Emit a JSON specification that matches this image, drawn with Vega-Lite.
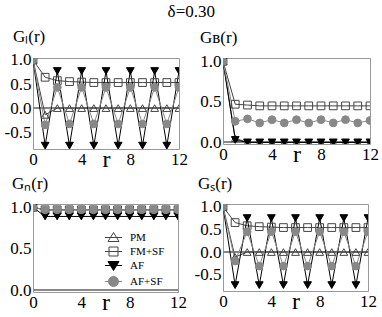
{
  "$schema": "https://vega.github.io/schema/vega-lite/v6.json",
  "padding": {"left": 3, "top": 3, "right": 5, "bottom": 3},
  "title": {"text": "δ=0.30", "fontSize": 17, "font": "Liberation Serif", "fontWeight": "normal", "anchor": "middle", "frame": "bounds", "offset": 6},
  "datasets": {
    "gl": [
      {"s":"PM","r":0,"v":1},{"s":"PM","r":1,"v":-0.14},{"s":"PM","r":2,"v":0},{"s":"PM","r":3,"v":0},{"s":"PM","r":4,"v":0},{"s":"PM","r":5,"v":0},{"s":"PM","r":6,"v":0},{"s":"PM","r":7,"v":0},{"s":"PM","r":8,"v":0},{"s":"PM","r":9,"v":0},{"s":"PM","r":10,"v":0},{"s":"PM","r":11,"v":0},{"s":"PM","r":12,"v":0},
      {"s":"FM+SF","r":0,"v":1},{"s":"FM+SF","r":1,"v":0.64},{"s":"FM+SF","r":2,"v":0.57},{"s":"FM+SF","r":3,"v":0.55},{"s":"FM+SF","r":4,"v":0.54},{"s":"FM+SF","r":5,"v":0.53},{"s":"FM+SF","r":6,"v":0.53},{"s":"FM+SF","r":7,"v":0.53},{"s":"FM+SF","r":8,"v":0.53},{"s":"FM+SF","r":9,"v":0.53},{"s":"FM+SF","r":10,"v":0.53},{"s":"FM+SF","r":11,"v":0.53},{"s":"FM+SF","r":12,"v":0.53},
      {"s":"AF","r":0,"v":1},{"s":"AF","r":1,"v":-0.78},{"s":"AF","r":2,"v":0.77},{"s":"AF","r":3,"v":-0.78},{"s":"AF","r":4,"v":0.77},{"s":"AF","r":5,"v":-0.78},{"s":"AF","r":6,"v":0.77},{"s":"AF","r":7,"v":-0.78},{"s":"AF","r":8,"v":0.77},{"s":"AF","r":9,"v":-0.78},{"s":"AF","r":10,"v":0.77},{"s":"AF","r":11,"v":-0.78},{"s":"AF","r":12,"v":0.77},
      {"s":"AF+SF","r":0,"v":1},{"s":"AF+SF","r":1,"v":-0.35},{"s":"AF+SF","r":2,"v":0.43},{"s":"AF+SF","r":3,"v":-0.33},{"s":"AF+SF","r":4,"v":0.43},{"s":"AF+SF","r":5,"v":-0.33},{"s":"AF+SF","r":6,"v":0.43},{"s":"AF+SF","r":7,"v":-0.33},{"s":"AF+SF","r":8,"v":0.43},{"s":"AF+SF","r":9,"v":-0.33},{"s":"AF+SF","r":10,"v":0.43},{"s":"AF+SF","r":11,"v":-0.33},{"s":"AF+SF","r":12,"v":0.43}
    ],
    "gb": [
      {"s":"PM","r":0,"v":1},{"s":"PM","r":1,"v":0.05},{"s":"PM","r":2,"v":0},{"s":"PM","r":3,"v":0},{"s":"PM","r":4,"v":0},{"s":"PM","r":5,"v":0},{"s":"PM","r":6,"v":0},{"s":"PM","r":7,"v":0},{"s":"PM","r":8,"v":0},{"s":"PM","r":9,"v":0},{"s":"PM","r":10,"v":0},{"s":"PM","r":11,"v":0},{"s":"PM","r":12,"v":0},
      {"s":"FM+SF","r":0,"v":1},{"s":"FM+SF","r":1,"v":0.47},{"s":"FM+SF","r":2,"v":0.46},{"s":"FM+SF","r":3,"v":0.45},{"s":"FM+SF","r":4,"v":0.45},{"s":"FM+SF","r":5,"v":0.45},{"s":"FM+SF","r":6,"v":0.45},{"s":"FM+SF","r":7,"v":0.45},{"s":"FM+SF","r":8,"v":0.45},{"s":"FM+SF","r":9,"v":0.45},{"s":"FM+SF","r":10,"v":0.45},{"s":"FM+SF","r":11,"v":0.45},{"s":"FM+SF","r":12,"v":0.45},
      {"s":"AF","r":0,"v":1},{"s":"AF","r":1,"v":0.03},{"s":"AF","r":2,"v":0},{"s":"AF","r":3,"v":0},{"s":"AF","r":4,"v":0},{"s":"AF","r":5,"v":0},{"s":"AF","r":6,"v":0},{"s":"AF","r":7,"v":0},{"s":"AF","r":8,"v":0},{"s":"AF","r":9,"v":0},{"s":"AF","r":10,"v":0},{"s":"AF","r":11,"v":0},{"s":"AF","r":12,"v":0},
      {"s":"AF+SF","r":0,"v":1},{"s":"AF+SF","r":1,"v":0.26},{"s":"AF+SF","r":2,"v":0.29},{"s":"AF+SF","r":3,"v":0.24},{"s":"AF+SF","r":4,"v":0.28},{"s":"AF+SF","r":5,"v":0.24},{"s":"AF+SF","r":6,"v":0.28},{"s":"AF+SF","r":7,"v":0.24},{"s":"AF+SF","r":8,"v":0.28},{"s":"AF+SF","r":9,"v":0.24},{"s":"AF+SF","r":10,"v":0.28},{"s":"AF+SF","r":11,"v":0.24},{"s":"AF+SF","r":12,"v":0.27}
    ],
    "gn": [
      {"s":"PM","r":0,"v":1},{"s":"PM","r":1,"v":0.97},{"s":"PM","r":2,"v":0.97},{"s":"PM","r":3,"v":0.97},{"s":"PM","r":4,"v":0.97},{"s":"PM","r":5,"v":0.97},{"s":"PM","r":6,"v":0.97},{"s":"PM","r":7,"v":0.97},{"s":"PM","r":8,"v":0.97},{"s":"PM","r":9,"v":0.97},{"s":"PM","r":10,"v":0.97},{"s":"PM","r":11,"v":0.97},{"s":"PM","r":12,"v":0.97},
      {"s":"FM+SF","r":0,"v":1},{"s":"FM+SF","r":1,"v":0.97},{"s":"FM+SF","r":2,"v":0.97},{"s":"FM+SF","r":3,"v":0.97},{"s":"FM+SF","r":4,"v":0.97},{"s":"FM+SF","r":5,"v":0.97},{"s":"FM+SF","r":6,"v":0.97},{"s":"FM+SF","r":7,"v":0.97},{"s":"FM+SF","r":8,"v":0.97},{"s":"FM+SF","r":9,"v":0.97},{"s":"FM+SF","r":10,"v":0.97},{"s":"FM+SF","r":11,"v":0.97},{"s":"FM+SF","r":12,"v":0.97},
      {"s":"AF","r":0,"v":1},{"s":"AF","r":1,"v":0.89},{"s":"AF","r":2,"v":0.89},{"s":"AF","r":3,"v":0.89},{"s":"AF","r":4,"v":0.89},{"s":"AF","r":5,"v":0.89},{"s":"AF","r":6,"v":0.89},{"s":"AF","r":7,"v":0.89},{"s":"AF","r":8,"v":0.89},{"s":"AF","r":9,"v":0.89},{"s":"AF","r":10,"v":0.89},{"s":"AF","r":11,"v":0.89},{"s":"AF","r":12,"v":0.89},
      {"s":"AF+SF","r":0,"v":1},{"s":"AF+SF","r":1,"v":0.97},{"s":"AF+SF","r":2,"v":0.97},{"s":"AF+SF","r":3,"v":0.97},{"s":"AF+SF","r":4,"v":0.97},{"s":"AF+SF","r":5,"v":0.97},{"s":"AF+SF","r":6,"v":0.97},{"s":"AF+SF","r":7,"v":0.97},{"s":"AF+SF","r":8,"v":0.97},{"s":"AF+SF","r":9,"v":0.97},{"s":"AF+SF","r":10,"v":0.97},{"s":"AF+SF","r":11,"v":0.97},{"s":"AF+SF","r":12,"v":0.97}
    ],
    "gs": [
      {"s":"PM","r":0,"v":1},{"s":"PM","r":1,"v":-0.11},{"s":"PM","r":2,"v":0},{"s":"PM","r":3,"v":0},{"s":"PM","r":4,"v":0},{"s":"PM","r":5,"v":0},{"s":"PM","r":6,"v":0},{"s":"PM","r":7,"v":0},{"s":"PM","r":8,"v":0},{"s":"PM","r":9,"v":0},{"s":"PM","r":10,"v":0},{"s":"PM","r":11,"v":0},{"s":"PM","r":12,"v":0},
      {"s":"FM+SF","r":0,"v":1},{"s":"FM+SF","r":1,"v":0.65},{"s":"FM+SF","r":2,"v":0.58},{"s":"FM+SF","r":3,"v":0.56},{"s":"FM+SF","r":4,"v":0.55},{"s":"FM+SF","r":5,"v":0.54},{"s":"FM+SF","r":6,"v":0.54},{"s":"FM+SF","r":7,"v":0.54},{"s":"FM+SF","r":8,"v":0.54},{"s":"FM+SF","r":9,"v":0.54},{"s":"FM+SF","r":10,"v":0.54},{"s":"FM+SF","r":11,"v":0.54},{"s":"FM+SF","r":12,"v":0.54},
      {"s":"AF","r":0,"v":1},{"s":"AF","r":1,"v":-0.73},{"s":"AF","r":2,"v":0.75},{"s":"AF","r":3,"v":-0.73},{"s":"AF","r":4,"v":0.75},{"s":"AF","r":5,"v":-0.73},{"s":"AF","r":6,"v":0.75},{"s":"AF","r":7,"v":-0.73},{"s":"AF","r":8,"v":0.75},{"s":"AF","r":9,"v":-0.73},{"s":"AF","r":10,"v":0.75},{"s":"AF","r":11,"v":-0.73},{"s":"AF","r":12,"v":0.75},
      {"s":"AF+SF","r":0,"v":1},{"s":"AF+SF","r":1,"v":-0.2},{"s":"AF+SF","r":2,"v":0.45},{"s":"AF+SF","r":3,"v":-0.31},{"s":"AF+SF","r":4,"v":0.45},{"s":"AF+SF","r":5,"v":-0.31},{"s":"AF+SF","r":6,"v":0.45},{"s":"AF+SF","r":7,"v":-0.31},{"s":"AF+SF","r":8,"v":0.45},{"s":"AF+SF","r":9,"v":-0.31},{"s":"AF+SF","r":10,"v":0.45},{"s":"AF+SF","r":11,"v":-0.31},{"s":"AF+SF","r":12,"v":0.45}
    ]
  },
  "columns": 2,
  "bounds": "flush",
  "spacing": {"row": 55, "column": 44},
  "concat": [
    {
      "width": 146, "height": 91,
      "title": {"text": "Gₗ(r)", "dx": -20},
      "data": {"name": "gl"},
      "encoding": {
        "x": {"field": "r", "type": "quantitative", "scale": {"domain": [0, 12], "nice": false}, "axis": {"values": [0, 4, 8, 12], "title": "r"}},
        "y": {"field": "v", "type": "quantitative", "scale": {"domain": [-0.85, 1.04], "nice": false, "zero": false}, "axis": {"values": [-0.5, 0, 0.5, 1], "title": null}}
      },
      "layer": [
        {"mark": {"type": "rule", "color": "#888", "strokeWidth": 1}, "encoding": {"y": {"datum": 0}, "x": {"value": 0}, "x2": {"value": 146}}},
        {"mark": {"type": "line", "strokeWidth": 1, "clip": true}, "encoding": {"detail": {"field": "s"}, "stroke": {"field": "s", "type": "nominal", "scale": {"domain": ["PM", "FM+SF", "AF", "AF+SF"], "range": ["#444444", "#444444", "#000000", "#888888"]}}}},
        {"mark": {"type": "point", "filled": false, "strokeWidth": 1, "size": 60, "opacity": 1, "clip": true}, "encoding": {
          "shape": {"field": "s", "type": "nominal", "legend": null, "scale": {"domain": ["AF+SF", "AF", "FM+SF", "PM"], "range": ["circle", "triangle-down", "square", "triangle-up"]}},
          "fill": {"field": "s", "type": "nominal", "scale": {"domain": ["PM", "FM+SF", "AF", "AF+SF"], "range": ["transparent", "transparent", "#000000", "#888888"]}},
          "stroke": {"field": "s", "type": "nominal", "scale": {"domain": ["PM", "FM+SF", "AF", "AF+SF"], "range": ["#444444", "#444444", "#000000", "#888888"]}}}}
      ]
    },
    {
      "width": 147, "height": 86,
      "title": {"text": "Gʙ(r)", "dx": -23},
      "data": {"name": "gb"},
      "encoding": {
        "x": {"field": "r", "type": "quantitative", "scale": {"domain": [0, 12], "nice": false}, "axis": {"values": [0, 4, 8, 12], "title": "r"}},
        "y": {"field": "v", "type": "quantitative", "scale": {"domain": [-0.02, 1.04], "nice": false, "zero": false}, "axis": {"values": [0, 0.5, 1], "title": null}}
      },
      "layer": [
        {"mark": {"type": "rule", "color": "#888", "strokeWidth": 1}, "encoding": {"y": {"datum": 0}, "x": {"value": 0}, "x2": {"value": 147}}},
        {"mark": {"type": "line", "strokeWidth": 1, "clip": true}, "encoding": {"detail": {"field": "s"}, "stroke": {"field": "s", "type": "nominal", "scale": {"domain": ["PM", "FM+SF", "AF", "AF+SF"], "range": ["#444444", "#444444", "#000000", "#888888"]}}}},
        {"mark": {"type": "point", "filled": false, "strokeWidth": 1, "size": 60, "opacity": 1, "clip": true}, "encoding": {
          "shape": {"field": "s", "type": "nominal", "legend": null, "scale": {"domain": ["AF+SF", "AF", "FM+SF", "PM"], "range": ["circle", "triangle-down", "square", "triangle-up"]}},
          "fill": {"field": "s", "type": "nominal", "scale": {"domain": ["PM", "FM+SF", "AF", "AF+SF"], "range": ["transparent", "transparent", "#000000", "#888888"]}},
          "stroke": {"field": "s", "type": "nominal", "scale": {"domain": ["PM", "FM+SF", "AF", "AF+SF"], "range": ["#444444", "#444444", "#000000", "#888888"]}}}}
      ]
    },
    {
      "width": 145, "height": 88,
      "title": {"text": "Gₙ(r)", "dx": -21},
      "data": {"name": "gn"},
      "encoding": {
        "x": {"field": "r", "type": "quantitative", "scale": {"domain": [0, 12], "nice": false}, "axis": {"values": [0, 4, 8, 12], "title": "r"}},
        "y": {"field": "v", "type": "quantitative", "scale": {"domain": [-0.02, 1.04], "nice": false, "zero": false}, "axis": {"values": [0, 0.5, 1], "title": null}}
      },
      "layer": [
        {"mark": {"type": "rule", "color": "#888", "strokeWidth": 1}, "encoding": {"y": {"datum": 0}, "x": {"value": 0}, "x2": {"value": 145}}},
        {"mark": {"type": "line", "strokeWidth": 1, "clip": true}, "encoding": {"detail": {"field": "s"}, "stroke": {"field": "s", "type": "nominal", "scale": {"domain": ["PM", "FM+SF", "AF", "AF+SF"], "range": ["#444444", "#444444", "#000000", "#888888"]}}}},
        {"mark": {"type": "point", "filled": false, "strokeWidth": 1, "size": 60, "opacity": 1, "clip": true}, "encoding": {
          "shape": {"field": "s", "type": "nominal", "legend": null, "scale": {"domain": ["AF+SF", "AF", "FM+SF", "PM"], "range": ["circle", "triangle-down", "square", "triangle-up"]}},
          "fill": {"field": "s", "type": "nominal", "scale": {"domain": ["PM", "FM+SF", "AF", "AF+SF"], "range": ["transparent", "transparent", "#000000", "#888888"]}, "legend": {"orient": "none", "legendX": 75, "legendY": 174, "title": null, "labelFont": "Liberation Serif", "labelFontSize": 11, "labelOffset": 11, "symbolSize": 100, "rowPadding": 1, "symbolStrokeWidth": 1, "encoding": {"symbols": {"shape": {"value": {"expr": "datum.value === 'PM' ? 'M-1.7,0H1.7M0,-1L1.1,0.8L-1.1,0.8Z' : datum.value === 'FM+SF' ? 'M-1.7,0H1.7M-0.9,-0.9H0.9V0.9H-0.9Z' : datum.value === 'AF' ? 'M-1.7,0H1.7M0,1L1.1,-0.8L-1.1,-0.8Z' : 'M-1.7,0H1.7M1,0A1,1,0,1,1,-1,0A1,1,0,1,1,1,0Z'"}}}}}},
          "stroke": {"field": "s", "type": "nominal", "scale": {"domain": ["PM", "FM+SF", "AF", "AF+SF"], "range": ["#444444", "#444444", "#000000", "#888888"]}, "legend": {"orient": "none", "legendX": 75, "legendY": 174, "title": null, "labelFont": "Liberation Serif", "labelFontSize": 11, "labelOffset": 11, "symbolSize": 100, "rowPadding": 1, "symbolStrokeWidth": 1, "encoding": {"symbols": {"shape": {"value": {"expr": "datum.value === 'PM' ? 'M-1.7,0H1.7M0,-1L1.1,0.8L-1.1,0.8Z' : datum.value === 'FM+SF' ? 'M-1.7,0H1.7M-0.9,-0.9H0.9V0.9H-0.9Z' : datum.value === 'AF' ? 'M-1.7,0H1.7M0,1L1.1,-0.8L-1.1,-0.8Z' : 'M-1.7,0H1.7M1,0A1,1,0,1,1,-1,0A1,1,0,1,1,1,0Z'"}}}}}}}}
      ]
    },
    {
      "width": 145, "height": 87,
      "title": {"text": "Gₛ(r)", "dx": -25},
      "data": {"name": "gs"},
      "encoding": {
        "x": {"field": "r", "type": "quantitative", "scale": {"domain": [0, 12], "nice": false}, "axis": {"values": [0, 4, 8, 12], "title": "r"}},
        "y": {"field": "v", "type": "quantitative", "scale": {"domain": [-0.86, 1.06], "nice": false, "zero": false}, "axis": {"values": [-0.5, 0, 0.5, 1], "title": null}}
      },
      "layer": [
        {"mark": {"type": "rule", "color": "#888", "strokeWidth": 1}, "encoding": {"y": {"datum": 0}, "x": {"value": 0}, "x2": {"value": 145}}},
        {"mark": {"type": "line", "strokeWidth": 1, "clip": true}, "encoding": {"detail": {"field": "s"}, "stroke": {"field": "s", "type": "nominal", "scale": {"domain": ["PM", "FM+SF", "AF", "AF+SF"], "range": ["#444444", "#444444", "#000000", "#888888"]}}}},
        {"mark": {"type": "point", "filled": false, "strokeWidth": 1, "size": 60, "opacity": 1, "clip": true}, "encoding": {
          "shape": {"field": "s", "type": "nominal", "legend": null, "scale": {"domain": ["AF+SF", "AF", "FM+SF", "PM"], "range": ["circle", "triangle-down", "square", "triangle-up"]}},
          "fill": {"field": "s", "type": "nominal", "scale": {"domain": ["PM", "FM+SF", "AF", "AF+SF"], "range": ["transparent", "transparent", "#000000", "#888888"]}},
          "stroke": {"field": "s", "type": "nominal", "scale": {"domain": ["PM", "FM+SF", "AF", "AF+SF"], "range": ["#444444", "#444444", "#000000", "#888888"]}}}}
      ]
    }
  ],
  "resolve": {"scale": {"x": "independent", "y": "independent"}},
  "config": {
    "font": "Liberation Serif",
    "view": {"stroke": "#999999"},
    "title": {"font": "Liberation Serif", "fontSize": 17, "fontWeight": "normal", "anchor": "start", "frame": "group", "offset": 5, "color": "black"},
    "axis": {"grid": false, "domain": false, "ticks": false, "labelFont": "Liberation Serif", "labelFontSize": 17, "labelColor": "black", "labelPadding": 2, "titleFont": "Liberation Serif", "titleFontWeight": "normal", "titleColor": "black"},
    "axisX": {"titleFontSize": 24, "titleY": 17, "titleBaseline": "alphabetic", "labelFlush": false},
    "axisY": {"labelExpr": "datum.value < 0 ? '-' + format(-datum.value, '.1f') : format(datum.value, '.1f')"},
    "legend": {"labelColor": "black"}
  }
}
